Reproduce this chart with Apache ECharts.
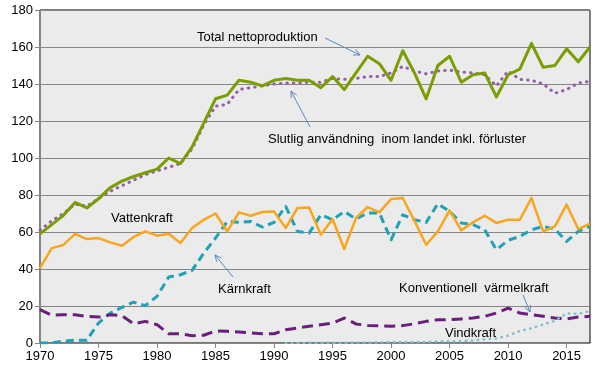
<!DOCTYPE html>
<html>
<head>
<meta charset="utf-8">
<script src="https://cdn.jsdelivr.net/npm/echarts@6/dist/echarts.min.js"></script>
<style>html,body{margin:0;padding:0;background:#fff}#c{width:605px;height:373px}</style>
</head>
<body>
<div id="c"></div>
<script>
var years = [];
for (var y = 1970; y <= 2017; y++) years.push(String(y));
var yTicks = [0, 20, 40, 60, 80, 100, 120, 140, 160, 180];

var totalNetto = [59,64,69,76,73,78,84,87.5,90,92, 94,100,97,106,119,132,134,142,141,139, 142,143,142,142,138,144,137,146,155,151, 142,158,146,132,150,155,141,145,146,133, 145,148,162,149,150,159,152,160];
var slutlig = [61,66,70,75,74,78,82,85,88,91, 93,95,97,105,118,128,129,137,138,139, 140,140.5,140.5,141,141,143,142.5,143,144,144, 146,149.5,147,145.5,147,147.5,146.5,146,145,139, 147,142.5,142,140,135,137,140.5,141.5];
var vatten = [40.5,51.3,53,59,56.2,56.7,54.4,52.6,57.3,60.3, 58,59.1,54,62.2,66.6,70,60.3,70.6,68.8,70.8, 71.1,62.2,73,73.3,58.5,67,50.8,67.6,73.5,70.6, 77.8,78.4,66,53.1,60.3,71.7,60.9,65.2,68.8,64.9, 66.6,66.6,78.4,60.3,63,74.8,61.6,64.5];
var karn = [0,0,1,1.5,1.5,10.8,16.2,19.3,22.1,20.2, 25.2,35.7,36.9,39.3,48.6,56.7,65.7,65.2,65.7,62.7, 65.2,73.8,60.3,59.4,69.3,66.6,71.1,67,70.3,70.3, 55.8,69.3,66.6,65.2,75.3,71.1,64.9,64,61.2,50.4, 55.5,57.6,61.2,63,61.6,54.9,60.3,63];
var konv = [18,15,15.3,15.3,14.4,14,15.3,14.8,10.4,11.7, 9.9,5,5,3.9,4.2,6.5,6.3,6,5.4,5, 5,7.2,8.1,9,9.9,10.8,13.5,10.3,9.5,9.3, 9,9.4,10.4,11.7,12.6,12.6,13,13.5,14.4,16.2, 18.9,16.2,15.3,14.4,13.5,13,14,14.4];
var vind = [null,null,null,null,null,null,null,null,null,null, null,null,null,null,null,null,null,null,null,null, null,0,0,0.1,0.1,0.1,0.1,0.2,0.3,0.4, 0.5,0.5,0.6,0.5,0.9,0.9,1,1.4,2,2.5, 4,6.5,8,10,12,16,15.8,17.3];

var FONT = '"Liberation Sans", Arial, sans-serif';
var chart = echarts.init(document.getElementById('c'), null, {renderer: 'canvas'});

function line(name, data, color, width, type, cap) {
  return {
    name: name, type: 'line', data: data, symbol: 'none', smooth: false,
    connectNulls: false, animation: false,
    lineStyle: {color: color, width: width, type: type, cap: cap || 'butt', join: 'round'}
  };
}

function label(text, x, y) {
  return {type: 'text', x: x, y: y, z: 100,
    style: {text: text, font: '13px ' + FONT, fill: '#000', textVerticalAlign: 'middle'}};
}
function arrow(x1, y1, x2, y2) {
  var ang = Math.atan2(y2 - y1, x2 - x1), L = 7, a = 0.45;
  var p1 = [x2 - L * Math.cos(ang - a), y2 - L * Math.sin(ang - a)];
  var p2 = [x2 - L * Math.cos(ang + a), y2 - L * Math.sin(ang + a)];
  return {type: 'group', z: 100, children: [
    {type: 'line', shape: {x1: x1, y1: y1, x2: x2, y2: y2}, style: {stroke: '#5b87c5', lineWidth: 1}},
    {type: 'polyline', shape: {points: [p1, [x2, y2], p2]}, style: {stroke: '#5b87c5', lineWidth: 1, fill: null}}
  ]};
}

var option = {
  animation: false,
  backgroundColor: '#fff',
  grid: {left: 40, right: 15, top: 10, bottom: 30, show: true, backgroundColor: '#EBEBEB', borderColor: '#000', borderWidth: 1},
  xAxis: {
    type: 'category', data: years, boundaryGap: false,
    axisLine: {lineStyle: {color: '#868686', width: 1}},
    axisTick: {show: true, interval: 4, length: 5, lineStyle: {color: '#868686'}},
    axisLabel: {interval: 4, color: '#000', fontFamily: FONT, fontSize: 13, margin: 7},
    splitLine: {show: false}
  },
  yAxis: {
    type: 'value', min: yTicks[0], max: yTicks[yTicks.length - 1], interval: 20,
    axisLine: {show: true, lineStyle: {color: '#868686', width: 1}},
    axisTick: {show: true, length: 5, lineStyle: {color: '#868686'}},
    axisLabel: {color: '#000', fontFamily: FONT, fontSize: 13, margin: 7},
    splitLine: {show: true, lineStyle: {color: '#868686', width: 1}}
  },
  series: [
    line('Kärnkraft', karn, '#1FA2B6', 3, [8, 5]),
    line('Vattenkraft', vatten, '#F9A51E', 2.5, 'solid'),
    line('Konventionell värmelkraft', konv, '#6A1F7A', 3, [11, 6]),
    line('Vindkraft', vind, '#86BFCC', 2.5, [0.5, 5.5], 'round'),
    line('Slutlig användning', slutlig, '#9460A8', 3, [0.5, 6], 'round'),
    line('Total nettoproduktion', totalNetto, '#7A9D00', 3, 'solid')
  ],
  graphic: [
    label('Total nettoproduktion', 197, 37),
    arrow(325, 38, 360, 55),
    label('Slutlig användning  inom landet inkl. förluster', 268, 139),
    arrow(310, 127, 291, 91),
    label('Vattenkraft', 111, 218),
    label('Kärnkraft', 218, 289),
    arrow(233, 277, 215, 255),
    label('Konventionell  värmelkraft', 399, 288),
    arrow(523, 295, 530, 312),
    label('Vindkraft', 445, 333)
  ]
};
chart.setOption(option);
</script>
</body>
</html>
